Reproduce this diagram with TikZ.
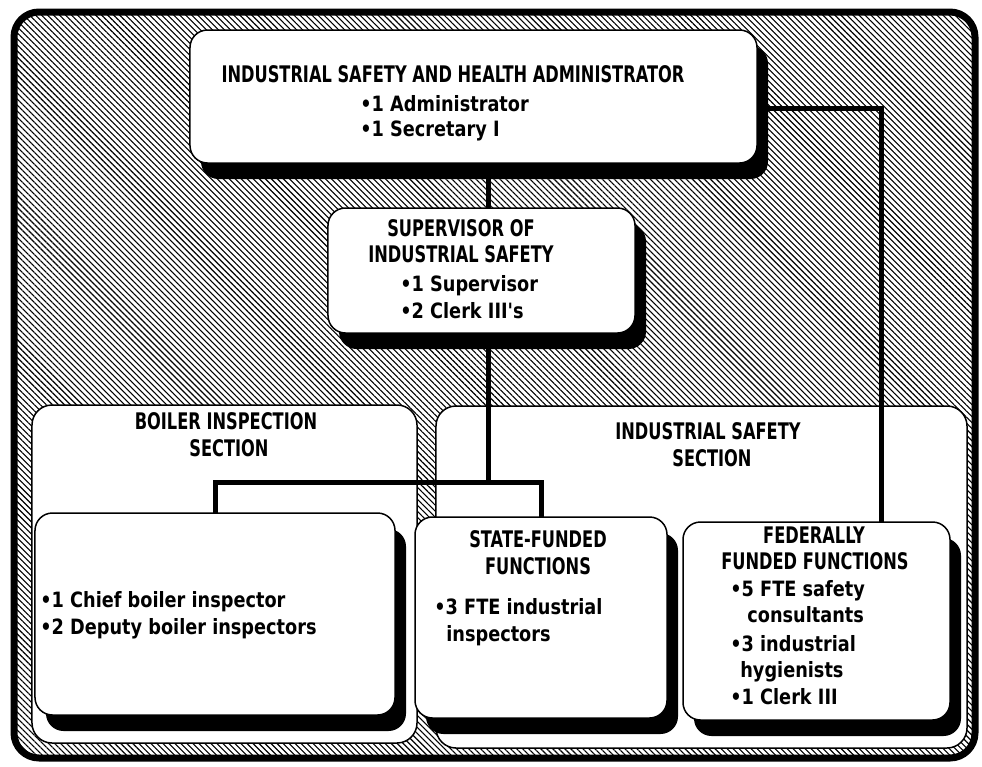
\documentclass[tikz,border=0pt]{standalone}
\usepackage{fontspec}
\setmainfont{DejaVu Sans}
\newfontfamily\headfont{DejaVu Sans}[FakeStretch=0.71]
\newfontfamily\itemfont{DejaVu Sans}[FakeStretch=0.84]
\usetikzlibrary{shadows,patterns.meta}

\tikzset{
  unitbox/.style={draw, line width=0.3mm, fill=white, rounded corners=3.5mm, inner sep=0pt, outer sep=0pt},
  shadowbox/.style={unitbox, drop shadow={fill=black, opacity=1, shadow xshift=2.2mm, shadow yshift=-3.2mm}},
  sectionbox/.style={draw, line width=0.3mm, fill=white, rounded corners=4mm, inner sep=0pt, outer sep=0pt},
  link/.style={line width=1mm},
  head/.style={font=\headfont\bfseries\fontsize{13}{15}\selectfont, inner sep=0pt, anchor=mid},
  item/.style={font=\itemfont\bfseries\fontsize{12}{14}\selectfont, inner sep=0pt, anchor=mid west},
}

\begin{document}
\begin{tikzpicture}[x=0.2mm, y=-0.2mm]
			%%%%% START %%%%%
			
			\useasboundingbox (0, 0) rectangle (982, 767);
			\fill[white] (0, 0) rectangle (982, 767);
			
			\draw[line width=1.4mm, rounded corners=5mm, pattern={Lines[angle=-45, distance=0.85mm, line width=0.22mm]}] (14, 12) rectangle (975, 758);
			
			\node[sectionbox, minimum width=77mm, minimum height=67.6mm] (boilersec) at (224.5, 574) {};
			\node[sectionbox, minimum width=106.2mm, minimum height=68.4mm] (safetysec) at (701.5, 577) {};
			
			\coordinate (spine) at (488, 0);
			\coordinate (bar) at (0, 482);
			\coordinate (fed) at (881, 108);
			
			\node[shadowbox, minimum width=113.4mm, minimum height=26.6mm] (admin) at (473.5, 96.5) {};
			\node[shadowbox, minimum width=61.4mm, minimum height=25mm] (super) at (481.5, 270.5) {};
			
			\draw[link] (spine |- admin.south) -- (spine |- super.north);
			\draw[link] (spine |- super.south) -- (spine |- bar);
			\draw[link] (admin.east |- fed) -- (fed) -- (fed |- 0, 522);
			\draw[link] (215, 513) |- (541, 482) -- (541, 517);
			
			\node[shadowbox, minimum width=72mm, minimum height=40.4mm] (boiler) at (215, 614) {};
			\node[shadowbox, minimum width=50.4mm, minimum height=40.2mm] (state) at (541, 617.5) {};
			\node[shadowbox, minimum width=53.4mm, minimum height=39.6mm] (federal) at (816.5, 621) {};
			
			% administrator
			\node[head] (admhead) at (453, 78) {INDUSTRIAL SAFETY AND HEALTH ADMINISTRATOR};
			\node[item] (admone) at (360, 107) {\textbullet1 Administrator};
			\node[item] (admtwo) at (360, 132) {\textbullet1 Secretary I};
			
			% supervisor
			\node[head] (suphead) at (461, 232) {SUPERVISOR OF};
			\node[head] (supheadb) at (461, 258) {INDUSTRIAL SAFETY};
			\node[item] (supone) at (400, 287) {\textbullet1 Supervisor};
			\node[item] (suptwo) at (400, 314) {\textbullet2 Clerk III's};
			
			% sections
			\node[head] (boilerhead) at (226, 425) {BOILER INSPECTION};
			\node[head] (boilerheadb) at (229, 452) {SECTION};
			\node[head] (safetyhead) at (708, 435) {INDUSTRIAL SAFETY};
			\node[head] (safetyheadb) at (712, 462) {SECTION};
			
			\node[item] (boilerone) at (40, 603) {\textbullet1 Chief boiler inspector};
			\node[item] (boilertwo) at (40, 630) {\textbullet2 Deputy boiler inspectors};
			
			\node[head] (statehead) at (538, 543) {STATE-FUNDED};
			\node[head] (stateheadb) at (538, 570) {FUNCTIONS};
			\node[item] (stateone) at (434, 610) {\textbullet3 FTE industrial};
			\node[item] (stateoneb) at (446, 637) {inspectors};
			
			\node[head] (fedhead) at (814, 539) {FEDERALLY};
			\node[head] (fedheadb) at (815, 565) {FUNDED FUNCTIONS};
			\node[item] (fedone) at (730, 592) {\textbullet5 FTE safety};
			\node[item] (fedoneb) at (747, 618) {consultants};
			\node[item] (fedtwo) at (730, 647) {\textbullet3 industrial};
			\node[item] (fedtwob) at (740, 673) {hygienists};
			\node[item] (fedthree) at (730, 700) {\textbullet1 Clerk III};
			
			%%%%% END %%%%%
\end{tikzpicture}
\end{document}
